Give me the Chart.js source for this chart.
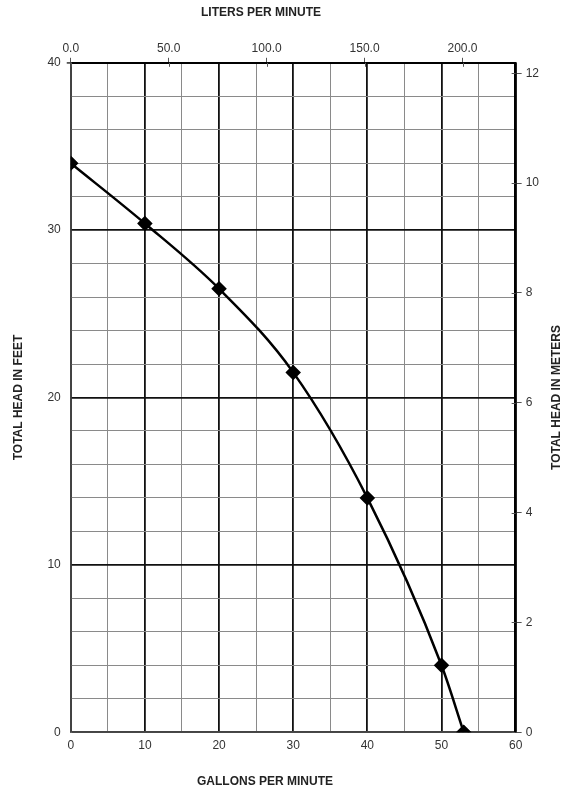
<!DOCTYPE html>
<html>
<head>
<meta charset="utf-8">
<script src="https://cdn.jsdelivr.net/npm/chart.js@4.4.1/dist/chart.umd.min.js"></script>
<style>
  html, body { margin: 0; padding: 0; background: #fff; }
  #wrap { width: 565px; height: 795px; }
</style>
</head>
<body>
<div id="wrap"><canvas id="pump"></canvas></div>
<script>
// pump curve
const gpm = [0, 10, 20, 30, 40, 50, 53];
const headFeet = [34, 30.4, 26.5, 21.5, 14, 4, 0];

const gpmMax = 60;
const feetMax = 40;
const LPM_PER_GPM = 3.785411784;
const M_PER_FT = 0.3048;

const font = { family: 'Liberation Sans, Arial, sans-serif', size: 12 };
const titleFont = { family: 'Liberation Sans, Arial, sans-serif', size: 12, weight: 'bold' };

const major = (v) => Math.abs(v % 10) < 1e-6;

// axis titles sit a bit left of the plot centre in the original, and the
// right one reads bottom-to-top, so draw them by hand. Also let the top and
// right tick marks poke a little into the plot.
const extras = {
  id: 'extras',
  afterDraw(chart) {
    const { ctx, chartArea } = chart;
    ctx.save();
    ctx.strokeStyle = '#555';
    ctx.lineWidth = 1;
    const x2 = chart.scales.x2;
    x2.ticks.forEach((t) => {
      const px = Math.round(x2.getPixelForValue(t.value)) + 0.5;
      ctx.beginPath();
      ctx.moveTo(px, chartArea.top);
      ctx.lineTo(px, chartArea.top + 4);
      ctx.stroke();
    });
    const y2 = chart.scales.y2;
    y2.ticks.forEach((t) => {
      const py = Math.round(y2.getPixelForValue(t.value)) + 0.5;
      ctx.beginPath();
      ctx.moveTo(chartArea.right - 4, py);
      ctx.lineTo(chartArea.right, py);
      ctx.stroke();
    });
    ctx.font = 'bold 12px Liberation Sans, Arial, sans-serif';
    ctx.fillStyle = '#222';
    ctx.textAlign = 'center';
    ctx.textBaseline = 'middle';
    ctx.fillText('LITERS PER MINUTE', 261, 13);
    ctx.fillText('GALLONS PER MINUTE', 265, 782);
    ctx.translate(chart.width - 8, (chartArea.top + chartArea.bottom) / 2);
    ctx.rotate(-Math.PI / 2);
    ctx.fillText('TOTAL HEAD IN METERS', 0, 0);
    ctx.restore();
  },
};

new Chart(document.getElementById('pump').getContext('2d'), {
  type: 'line',
  data: {
    datasets: [
      {
        data: gpm.map((g, i) => ({ x: g, y: headFeet[i] })),
        borderColor: '#000',
        borderWidth: 2.5,
        backgroundColor: '#000',
        pointStyle: 'rectRot',
        pointRadius: 6,
        pointBackgroundColor: '#000',
        cubicInterpolationMode: 'monotone',
        xAxisID: 'x',
        yAxisID: 'y',
      },
    ],
  },
  options: {
    responsive: true,
    maintainAspectRatio: false,
    animation: false,
    layout: { padding: { left: 11, right: 22, top: 39.4, bottom: 36.4 } },
    plugins: { legend: { display: false }, tooltip: { enabled: false } },
    scales: {
      x: {
        type: 'linear',
        position: 'bottom',
        min: 0,
        max: gpmMax,
        ticks: {
          stepSize: 5,
          color: '#333',
          font,
          padding: 6,
          autoSkip: false,
          maxRotation: 0,
          callback: (v) => (major(v) ? String(v) : ''),
        },
        grid: {
          drawTicks: false,
          color: (c) => (c.tick && major(c.tick.value) ? '#111' : '#8a8a8a'),
          lineWidth: (c) => (c.tick && major(c.tick.value) ? 1.8 : 1),
        },
        border: { color: '#444', width: 1.5 },
      },
      x2: {
        type: 'linear',
        position: 'top',
        min: 0,
        max: gpmMax * LPM_PER_GPM,
        ticks: {
          stepSize: 50,
          includeBounds: false,
          color: '#333',
          font,
          padding: 2,
          maxRotation: 0,
          callback: (v) => v.toFixed(1),
        },
        grid: { drawOnChartArea: false, drawTicks: true, tickLength: 5, color: '#555' },
        border: { color: '#000', width: 2 },
      },
      y: {
        type: 'linear',
        position: 'left',
        min: 0,
        max: feetMax,
        ticks: {
          stepSize: 2,
          color: '#333',
          font,
          padding: 6,
          autoSkip: false,
          callback: (v) => (major(v) ? String(v) : ''),
        },
        grid: {
          tickLength: 4,
          tickColor: (c) => (c.tick && c.tick.value === feetMax ? '#555' : 'rgba(0,0,0,0)'),
          color: (c) => (c.tick && major(c.tick.value) ? '#111' : '#8a8a8a'),
          lineWidth: (c) => (c.tick && major(c.tick.value) ? 1.8 : 1),
        },
        border: { color: '#444', width: 1.5 },
        title: { display: true, text: 'TOTAL HEAD IN FEET', font: titleFont, color: '#222', padding: { top: 0, bottom: 16 } },
      },
      y2: {
        type: 'linear',
        position: 'right',
        min: 0,
        max: feetMax * M_PER_FT,
        ticks: {
          stepSize: 2,
          includeBounds: false,
          color: '#333',
          font,
          padding: 4,
        },
        grid: { drawOnChartArea: false, drawTicks: true, tickLength: 6, color: '#555' },
        border: { color: '#000', width: 2.5 },
      },
    },
  },
  plugins: [extras],
});
</script>
</body>
</html>
